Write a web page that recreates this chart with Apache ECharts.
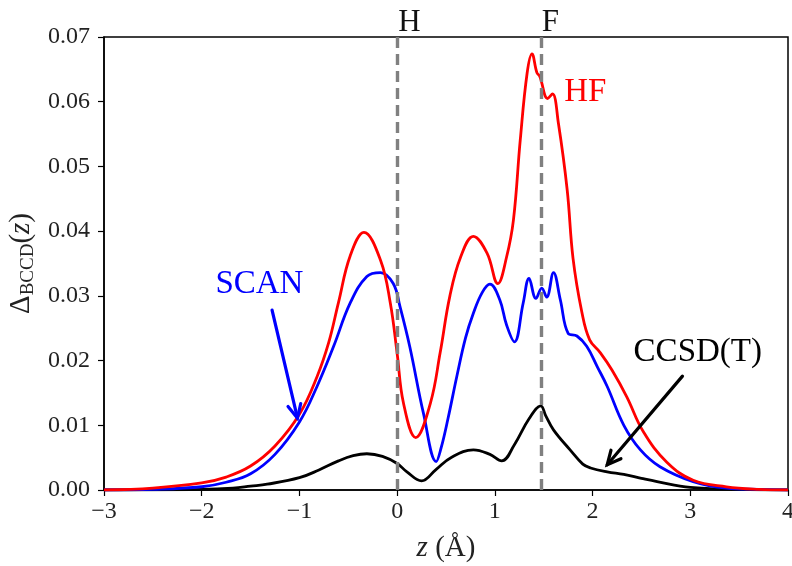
<!DOCTYPE html>
<html>
<head>
<meta charset="utf-8">
<script src="https://cdn.jsdelivr.net/npm/echarts@6/dist/echarts.min.js"></script>
<style>
html,body{margin:0;padding:0;background:#fff;}
#chart{width:792px;height:566px;}
</style>
</head>
<body>
<div id="chart"></div>
<script>
// z in Angstrom, values of Delta_BCCD(z)
const hfZ = [-3.0,-2.5,-2.0,-1.75,-1.5,-1.25,-1.0,-0.82,-0.7,-0.6,-0.48,-0.34,-0.17,-0.07,0.0,0.065,0.19,0.34,0.44,0.54,0.65,0.78,0.92,1.03,1.12,1.19,1.26,1.33,1.38,1.43,1.46,1.54,1.59,1.65,1.74,1.80,1.89,1.97,2.08,2.2,2.35,2.52,2.76,3.03,3.37,3.7,4.0];
const hfV = [0.0000,0.0003,0.0011,0.0020,0.0037,0.0068,0.0117,0.0175,0.0228,0.0290,0.0362,0.0398,0.0355,0.0289,0.0211,0.0134,0.0081,0.0134,0.0212,0.0300,0.0360,0.0392,0.0366,0.0319,0.0360,0.0417,0.0541,0.0644,0.0674,0.0645,0.0639,0.0605,0.0612,0.0567,0.0464,0.0358,0.0275,0.0232,0.0212,0.0185,0.0144,0.0090,0.0043,0.0015,0.0005,0.0001,0.0000];

const scanZ = [-3.0,-2.5,-2.0,-1.75,-1.5,-1.25,-1.0,-0.82,-0.65,-0.48,-0.31,-0.17,-0.04,0.03,0.13,0.27,0.40,0.45,0.52,0.61,0.70,0.78,0.87,0.95,1.05,1.12,1.20,1.29,1.35,1.42,1.48,1.53,1.60,1.67,1.75,1.84,1.94,2.05,2.15,2.32,2.49,2.69,3.03,3.37,3.7,4.0];
const scanV = [0.0000,0.0001,0.0005,0.0012,0.0025,0.0055,0.0105,0.0160,0.0222,0.0289,0.0330,0.0336,0.0319,0.0283,0.0221,0.0118,0.0044,0.0065,0.0110,0.0175,0.0235,0.0273,0.0305,0.0318,0.0294,0.0255,0.0229,0.0289,0.0327,0.0296,0.0312,0.0298,0.0336,0.0294,0.0242,0.0238,0.0222,0.0190,0.0160,0.0100,0.0062,0.0036,0.0013,0.0003,0.0001,0.0000];

const ccsdZ = [-3.0,-2.0,-1.68,-1.5,-1.33,-1.0,-0.8,-0.6,-0.45,-0.31,-0.15,0.0,0.1,0.25,0.4,0.55,0.78,0.95,1.07,1.2,1.35,1.47,1.52,1.60,1.77,1.9,1.98,2.15,2.32,2.5,2.66,3.0,3.5,4.0];
const ccsdV = [0.0000,0.0001,0.0003,0.0006,0.0009,0.0019,0.0031,0.0045,0.0053,0.0056,0.0052,0.0041,0.0028,0.0014,0.0032,0.0050,0.0062,0.0055,0.0045,0.0070,0.0110,0.0130,0.0115,0.0093,0.0062,0.0040,0.0034,0.0028,0.0024,0.0018,0.0013,0.0004,0.0001,0.0000];

// atom positions (dashed lines)
const atomNames = ['H','F'];
const atomZ = [0.0, 1.47];

// arrows: [start, end] in data coordinates
const scanArrow = [[-1.28,0.0278],[-1.02,0.0111]];
const ccsdArrow = [[2.92,0.0176],[2.15,0.0039]];

const serif = '"Liberation Serif","DejaVu Serif",serif';

function zip(zs,vs){ return zs.map((z,i)=>[z,vs[i]]); }

const chart = echarts.init(document.getElementById('chart'), null, {renderer:'canvas'});

const lineBase = {
    type:'line',
    showSymbol:false,
    smooth:0.4,
    animation:false,
    z:3
};

chart.setOption({
    animation:false,
    textStyle:{fontFamily:serif},
    grid:{left:104,right:4,top:37,bottom:76,outerBoundsMode:'none',containLabel:false,
        show:true,borderColor:'#000',borderWidth:1.5,backgroundColor:'transparent'},
    xAxis:{
        type:'value',min:-3,max:4,interval:1,
        name:'{i|z} (Å)',
        nameLocation:'middle',nameGap:44,
        nameTextStyle:{fontSize:29,color:'#222',fontFamily:serif,rich:{i:{fontStyle:'italic',fontSize:29,fontFamily:serif,color:'#222'}}},
        axisLine:{show:true,onZero:false,lineStyle:{color:'#000',width:1.5}},
        axisTick:{show:true,length:6,inside:false,lineStyle:{color:'#000',width:1.2}},
        axisLabel:{fontSize:24,color:'#222',fontFamily:serif,margin:10,
            formatter:v=>v<0?'\u2212'+Math.abs(v):String(v)},
        splitLine:{show:false}
    },
    yAxis:{
        type:'value',min:0,max:0.07,interval:0.01,
        name:'{a|Δ}{b|BCCD}{a|(}{i|z}{a|)}',
        nameLocation:'middle',nameGap:64,
        nameTextStyle:{color:'#222',fontFamily:serif,
            rich:{
                a:{fontSize:29,fontFamily:serif,color:'#222',lineHeight:30,verticalAlign:'top'},
                i:{fontSize:29,fontFamily:serif,fontStyle:'italic',color:'#222',lineHeight:30,verticalAlign:'top'},
                b:{fontSize:19,fontFamily:serif,color:'#222',lineHeight:19,verticalAlign:'bottom',padding:[16,0,0,0]}
            }},
        axisLine:{show:true,onZero:false,lineStyle:{color:'#000',width:1.5}},
        axisTick:{show:true,length:6,inside:false,lineStyle:{color:'#000',width:1.2}},
        axisLabel:{fontSize:24,color:'#222',fontFamily:serif,margin:14,formatter:v=>v.toFixed(2)},
        splitLine:{show:false}
    },
    series:[
        Object.assign({},lineBase,{
            name:'CCSD(T)',data:zip(ccsdZ,ccsdV),
            lineStyle:{color:'#000',width:2.8},itemStyle:{color:'#000'},
            markLine:{
                silent:true,symbol:'none',
                lineStyle:{color:'#808080',width:3.4,type:[11,6]},
                label:{show:false},
                data:atomZ.map(z=>({xAxis:z}))
            }
        }),
        Object.assign({},lineBase,{
            name:'SCAN',data:zip(scanZ,scanV),
            lineStyle:{color:'#0000ff',width:2.8},itemStyle:{color:'#0000ff'}
        }),
        Object.assign({},lineBase,{
            name:'HF',data:zip(hfZ,hfV),
            lineStyle:{color:'#ff0000',width:2.8},itemStyle:{color:'#ff0000'}
        })
    ]
});

// annotations placed through the coordinate system
function place(z,v){ return chart.convertToPixel({gridIndex:0},[z,v]); }

function arrow(pts,color){
    const a = place(pts[0][0],pts[0][1]);
    const b = place(pts[1][0],pts[1][1]);
    const ang = Math.atan2(b[1]-a[1],b[0]-a[0]);
    const L = 15, W = 0.45;
    const h1 = [b[0]-L*Math.cos(ang-W), b[1]-L*Math.sin(ang-W)];
    const h2 = [b[0]-L*Math.cos(ang+W), b[1]-L*Math.sin(ang+W)];
    const st = {stroke:color,lineWidth:3.2,fill:null,lineCap:'round',lineJoin:'miter'};
    return [
        {type:'polyline',z:10,shape:{points:[a,b]},style:st},
        {type:'polyline',z:10,shape:{points:[h1,b,h2]},style:st}
    ];
}

const annos = [
    {text:'SCAN',at:[-1.86,0.0318],color:'#0000ff'},
    {text:'HF',at:[1.71,0.0615],color:'#ff0000'},
    {text:'CCSD(T)',at:[2.42,0.0213],color:'#000'}
];
let graphics = annos.map(a=>{
    const p = place(a.at[0],a.at[1]);
    return {type:'text',x:p[0],y:p[1],z:10,style:{text:a.text,fill:a.color,font:'33px '+serif,textAlign:'left',textVerticalAlign:'middle'}};
});
atomNames.forEach((n,i)=>{
    const p = place(atomZ[i],0.07);
    graphics.push({type:'text',x:p[0]+1,y:p[1]-14,z:10,style:{text:n,fill:'#111',font:'31px '+serif,textAlign:'left',textVerticalAlign:'middle'}});
});
graphics = graphics.concat(arrow(scanArrow,'#0000ff'), arrow(ccsdArrow,'#000'));
chart.setOption({graphic:graphics});
</script>
</body>
</html>
